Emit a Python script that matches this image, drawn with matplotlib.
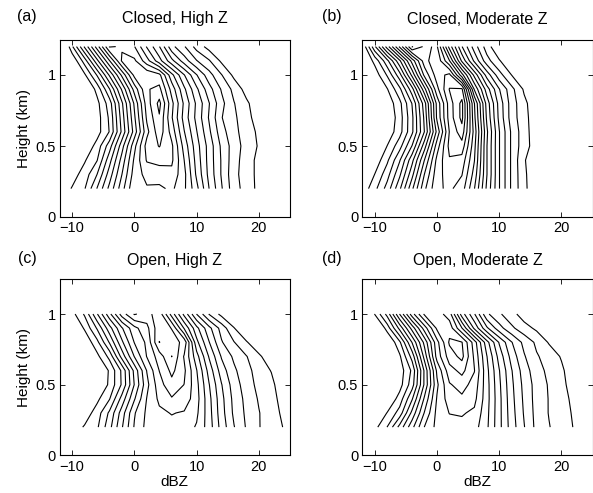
import numpy as np
import matplotlib
matplotlib.use("Agg")
import matplotlib.pyplot as plt

plt.rcParams['font.family'] = ['Liberation Sans', 'DejaVu Sans']

# ---------------- data ----------------
dbz_bins = [-12, -10, -8, -6, -4, -2, 0, 2, 4, 6, 8, 10, 12, 14, 16, 18, 20, 22, 24, 26]
heights_closed = [0.2, 0.3, 0.4, 0.5, 0.6, 0.7, 0.8, 0.9, 1.0, 1.1, 1.2]
heights_open = [0.2, 0.3, 0.4, 0.5, 0.6, 0.7, 0.8, 0.9, 1.0]

# frequency (contour-level units), rows = heights (bottom -> top), cols = dbz_bins
closed_high = [
    [0.25, 1.08, 1.92, 4.05, 6.3, 8.6, 10.9, 10.9, 10.8, 11.2, 10.2, 8.3, 6.0, 4.1, 2.4, 1.6, 0.7, 0, 0, 0],
    [-0.36, 0.55, 1.45, 3.0, 5.5, 8.0, 10.5, 11.3, 11.5, 11.7, 10.3, 7.8, 5.7, 3.9, 2.3, 1.5, 0.7, 0, 0, 0],
    [-1.2, -0.16, 0.89, 1.95, 4.64, 7.4, 10.2, 12.1, 12.3, 12.2, 10.0, 7.6, 5.6, 3.9, 2.4, 1.5, 0.7, 0, 0, 0],
    [-2.4, -1.1, 0.13, 1.38, 3.54, 6.6, 9.7, 12.4, 13.05, 12.2, 9.6, 7.4, 5.6, 3.8, 2.5, 1.6, 0.9, 0, 0, 0],
    [-3.7, -2.3, -0.86, 0.57, 2.05, 5.23, 8.45, 11.7, 13.6, 11.6, 9.05, 7.05, 5.2, 3.4, 2.3, 1.5, 0.8, 0, 0, 0],
    [-4.0, -2.5, -1.0, 0.54, 2.17, 5.5, 8.83, 12.17, 13.9, 11.1, 8.6, 6.7, 4.9, 3.05, 2.2, 1.35, 0.5, 0, 0, 0],
    [-4.0, -2.4, -0.85, 0.69, 2.5, 5.83, 9.17, 12.5, 14.3, 11.3, 8.8, 6.8, 5.05, 3.3, 2.05, 1.2, 0.3, 0, 0, 0],
    [-3.0, -2.0, -0.33, 1.33, 3.94, 7.16, 10.4, 12.9, 13.3, 10.6, 8.2, 6.2, 4.4, 2.9, 1.7, 0.6, 0, 0, 0, 0],
    [-3.0, -1.0, 0.82, 3.08, 6.15, 9.23, 12.3, 12.8, 12.3, 9.3, 7.05, 5.05, 3.4, 2.05, 0.75, 0, 0, 0, 0, 0],
    [-2.1, 0.11, 2.48, 5.7, 8.94, 12.15, 12.2, 10.4, 8.4, 6.3, 4.5, 3.05, 2.1, 0.8, 0, 0, 0, 0, 0, 0],
    [-1.5, 1.83, 5.17, 8.5, 12.1, 11.9, 11.05, 8.9, 7.05, 4.3, 3.1, 1.6, 0.6, 0, 0, 0, 0, 0, 0, 0],
]

closed_moderate = [
    [0.3, 1.7, 3.4, 5.8, 8.8, 11.8, 13.8, 14.2, 13.5, 11.05, 7.8, 5.05, 2.8, 1.25, 0.2, 0, 0, 0, 0, 0],
    [-0.4, 1.02, 2.6, 4.8, 7.7, 11.05, 13.6, 14.5, 14.05, 11.6, 8.05, 5.05, 2.8, 1.2, 0.2, 0, 0, 0, 0, 0],
    [-1.0, 0.3, 1.8, 3.9, 6.7, 10.05, 13.3, 14.9, 14.6, 12.05, 8.05, 5.05, 2.8, 1.1, 0.2, 0, 0, 0, 0, 0],
    [-1.5, -0.5, 1.02, 2.6, 5.05, 8.6, 12.5, 15.3, 15.6, 12.3, 8.05, 5.05, 2.8, 1.4, 0.5, 0, 0, 0, 0, 0],
    [-2.0, -1.0, 0.3, 1.6, 3.8, 7.05, 11.3, 15.05, 16.6, 12.6, 8.2, 5.05, 2.8, 1.4, 0.4, 0, 0, 0, 0, 0],
    [-2.0, -1.0, 0.04, 1.52, 3.77, 7.25, 12.2, 15.43, 17.3, 12.25, 7.83, 4.71, 2.5, 1.33, 0.38, 0, 0, 0, 0, 0],
    [-2.0, -1.0, 0.3, 1.7, 4.05, 7.6, 12.3, 15.5, 17.3, 12.05, 7.6, 4.6, 2.5, 1.25, 0.3, 0, 0, 0, 0, 0],
    [-1.5, -0.5, 0.93, 2.74, 5.62, 9.7, 13.7, 16.05, 16.2, 9.9, 6.5, 4.05, 2.3, 0.85, 0, 0, 0, 0, 0, 0],
    [-1.15, 0.4, 2.1, 4.6, 8.27, 12.3, 14.5, 15.3, 11.4, 7.7, 4.6, 2.4, 0.98, 0, 0, 0, 0, 0, 0, 0],
    [-0.23, 1.3, 3.7, 6.8, 10.4, 13.6, 14.8, 12.05, 7.8, 4.8, 2.4, 1.1, 0, 0, 0, 0, 0, 0, 0, 0],
    [0.07, 3.8, 7.5, 11.2, 15.1, 13.8, 14.15, 9.6, 6.05, 3.5, 1.5, 0, 0, 0, 0, 0, 0, 0, 0, 0],
]

open_high = [
    [-0.2, 0.39, 1.11, 1.82, 3.67, 5.9, 8.1, 9.3, 9.6, 9.7, 9.5, 8.9, 7.5, 5.6, 4.05, 2.9, 2.05, 1.5, 0.95, 0],
    [-1.6, -0.6, 0.42, 1.47, 3.2, 5.5, 7.9, 9.2, 9.8, 10.05, 9.9, 9.2, 7.4, 5.4, 3.8, 2.8, 2.05, 1.4, 0.8, 0],
    [-2.8, -1.6, -0.4, 0.76, 1.94, 4.4, 6.9, 9.05, 10.2, 10.9, 10.6, 9.4, 7.3, 5.3, 3.7, 2.7, 1.9, 1.35, 0.6, 0],
    [-3.0, -2.0, -1.0, -0.13, 1.2, 3.14, 6.05, 8.7, 10.6, 11.7, 10.98, 9.3, 7.05, 5.05, 3.5, 2.5, 1.7, 1.3, 0.2, 0],
    [-4.0, -3.0, -1.6, -0.3, 1.14, 3.2, 6.3, 9.05, 11.02, 12.25, 11.2, 9.05, 6.6, 4.5, 3.2, 2.3, 1.6, 0.95, 0, 0],
    [-3.0, -2.0, -0.7, 0.71, 2.3, 5.4, 8.05, 10.05, 11.5, 13.02, 10.9, 8.4, 5.9, 3.9, 2.8, 2.05, 1.2, 0.3, 0, 0],
    [-3.0, -1.4, 0.15, 1.7, 4.1, 6.8, 9.05, 10.2, 13.02, 12.5, 11.7, 7.3, 5.05, 3.1, 2.05, 1.1, 0.2, 0, 0, 0],
    [-1.7, -0.3, 1.14, 3.1, 5.6, 7.9, 9.7, 10.7, 12.7, 11.95, 8.9, 6.3, 4.3, 2.6, 1.05, 0, 0, 0, 0, 0],
    [-0.8, 0.64, 2.14, 4.9, 7.7, 10.5, 12.1, 11.6, 12.6, 9.57, 6.71, 3.98, 1.94, 0.69, 0, 0, 0, 0, 0, 0],
]

open_moderate = [
    [-0.7, 0.67, 2.02, 4.35, 6.7, 9.05, 10.3, 10.6, 10.7, 10.4, 9.2, 7.3, 5.5, 4.05, 2.7, 2.05, 1.5, 0.95, 0, 0],
    [-1.4, -0.18, 1.05, 2.43, 5.3, 8.1, 10.3, 11.03, 11.1, 10.8, 9.3, 7.3, 5.4, 3.9, 2.65, 1.95, 1.5, 0.85, 0, 0],
    [-2.8, -1.4, 0.0, 1.43, 3.9, 7.2, 10.1, 11.5, 11.8, 11.3, 9.4, 7.3, 5.3, 3.8, 2.6, 1.95, 1.45, 0.7, 0, 0],
    [-2.5, -1.5, -0.5, 0.58, 2.55, 6.2, 9.8, 11.9, 12.4, 11.6, 9.4, 7.2, 5.2, 3.7, 2.6, 1.9, 1.3, 0.5, 0, 0],
    [-3.0, -2.0, -0.8, 0.42, 2.2, 6.2, 10.2, 12.6, 13.3, 12.05, 9.3, 7.05, 5.05, 3.5, 2.4, 1.75, 1.2, 0.3, 0, 0],
    [-3.0, -2.0, -1.0, 0.82, 3.4, 7.4, 11.4, 13.5, 14.3, 11.8, 9.05, 6.6, 4.6, 3.1, 2.1, 1.6, 0.9, 0, 0, 0],
    [-3.0, -2.0, -0.2, 1.8, 5.05, 8.33, 11.67, 14.15, 14.05, 11.5, 8.4, 5.9, 4.05, 2.7, 1.8, 0.9, 0, 0, 0, 0],
    [-3.0, -0.8, 1.44, 4.3, 7.4, 10.5, 13.2, 13.6, 11.05, 7.8, 5.2, 3.4, 2.2, 1.4, 0.8, 0, 0, 0, 0, 0],
    [-1.0, 1.05, 3.33, 7.03, 10.57, 13.2, 13.5, 12.5, 8.5, 6.1, 3.2, 2.15, 1.35, 0.5, 0, 0, 0, 0, 0, 0],
]

panel_titles = ["Closed, High Z", "Closed, Moderate Z", "Open, High Z", "Open, Moderate Z"]
panel_tags = ["(a)", "(b)", "(c)", "(d)"]
panel_levels = [14, 17, 13, 14]

xticks = [-10, 0, 10, 20]
yticks = [0, 0.5, 1]
ytick_labels = ["0", "0.5", "1"]

# ---------------- figure ----------------
W, H = 593, 493
fig = plt.figure(figsize=(W / 100, H / 100), dpi=100)

def rect(l, t, r, b):
    return [l / W, 1 - b / H, (r - l) / W, (b - t) / H]

rects = [rect(59.7, 39.5, 290, 217), rect(362.3, 39.5, 592.6, 217),
         rect(59.7, 278.7, 290, 455.4), rect(362.3, 278.7, 592.6, 455.4)]
fields = [(heights_closed, closed_high), (heights_closed, closed_moderate),
          (heights_open, open_high), (heights_open, open_moderate)]
title_y = [19, 19, 261, 261]
tag_x = [27, 332, 27, 332]

for i in range(4):
    ax = fig.add_axes(rects[i])
    hts, Z = fields[i]
    ax.contour(dbz_bins, hts, np.array(Z), levels=np.arange(1, panel_levels[i] + 1),
               colors='k', linewidths=0.8)
    ax.set_xlim(-12, 25)
    ax.set_ylim(0, 1.25)
    ax.set_xticks(xticks)
    ax.set_yticks(yticks)
    ax.set_yticklabels(ytick_labels)
    ax.tick_params(direction='in', length=3.5, width=0.6, top=True, right=True,
                   labelsize=10.5, pad=3)
    for s in ax.spines.values():
        s.set_linewidth(0.8)
    if i in (0, 2):
        ax.set_ylabel("Height (km)", fontsize=11, labelpad=3)
    if i in (2, 3):
        ax.set_xlabel("dBZ", fontsize=11, labelpad=1)
    l, b, w, h = rects[i]
    fig.text(l + w / 2, 1 - title_y[i] / H, panel_titles[i], ha='center', va='center',
             fontsize=11.5)
    fig.text(tag_x[i] / W, 1 - (title_y[i] - 2) / H, panel_tags[i], ha='center',
             va='center', fontsize=11.5)

fig.savefig("out.png", dpi=100)
